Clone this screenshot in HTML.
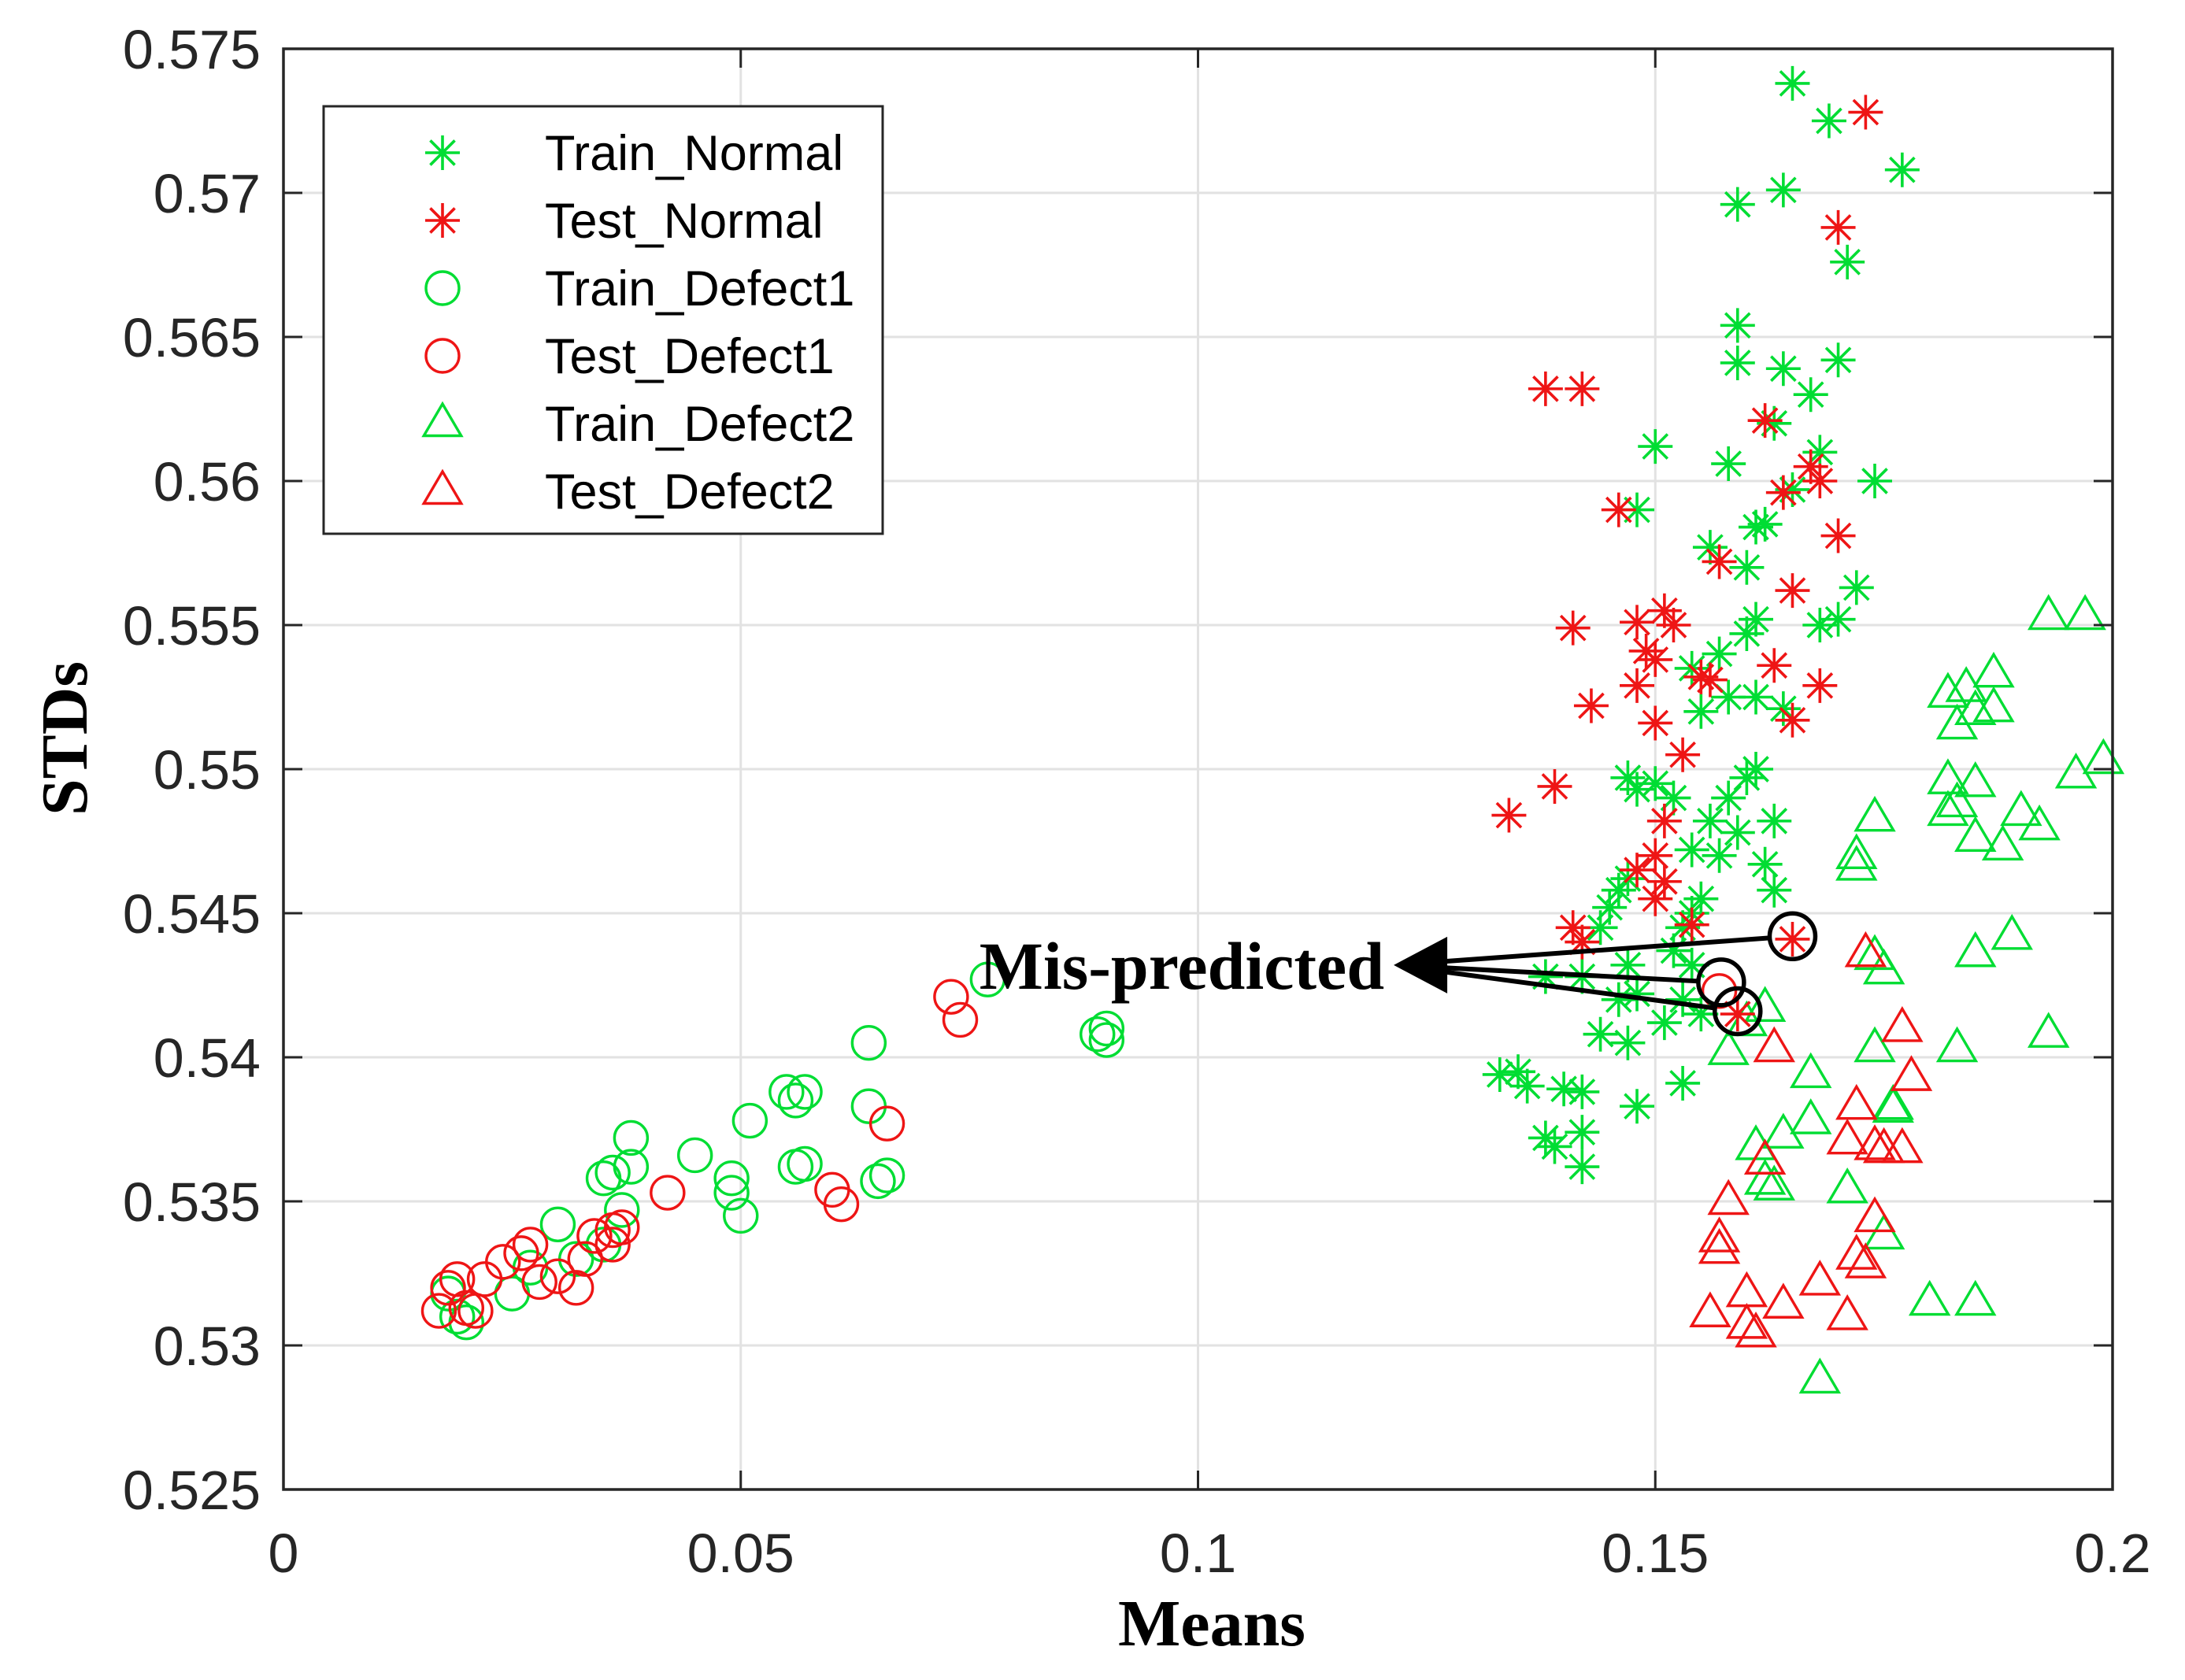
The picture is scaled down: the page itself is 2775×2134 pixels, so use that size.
<!DOCTYPE html>
<html><head><meta charset="utf-8"><style>
html,body{margin:0;padding:0;background:#fff;}
svg{display:block;}
</style></head><body>
<svg id="chart" width="2775" height="2134" viewBox="0 0 2775 2134" xmlns="http://www.w3.org/2000/svg">
<rect width="2775" height="2134" fill="#fff"/>
<g id="grid"></g>
<g id="marks"></g>
<g id="axes"></g>
<g id="annot"></g>
<g id="legend"></g>
</svg>
<script>
const xTicks = [0, 0.05, 0.1, 0.15, 0.2];
const xTickLabels = ["0", "0.05", "0.1", "0.15", "0.2"];
const yTicks = [0.525, 0.53, 0.535, 0.54, 0.545, 0.55, 0.555, 0.56, 0.565, 0.57, 0.575];
const yTickLabels = ["0.525","0.53","0.535","0.54","0.545","0.55","0.555","0.56","0.565","0.57","0.575"];
const seriesNames = ["Train_Normal","Test_Normal","Train_Defect1","Test_Defect1","Train_Defect2","Test_Defect2"];

const trainNormal = [[0.165,0.5738],[0.169,0.5725],[0.177,0.5708],[0.159,0.5696],[0.164,0.5701],[0.171,0.5676],[0.159,0.5654],[0.159,0.5641],[0.164,0.5639],[0.170,0.5642],[0.167,0.5630],[0.163,0.5620],[0.150,0.5612],[0.168,0.5610],[0.158,0.5606],[0.174,0.5600],[0.165,0.5597],[0.148,0.5590],[0.161,0.5584],[0.162,0.5585],[0.156,0.5577],[0.160,0.5570],[0.172,0.5563],[0.170,0.5552],[0.168,0.5550],[0.161,0.5552],[0.160,0.5547],[0.157,0.5540],[0.154,0.5535],[0.158,0.5525],[0.161,0.5525],[0.164,0.5521],[0.155,0.5520],[0.161,0.5500],[0.160,0.5497],[0.147,0.5497],[0.150,0.5495],[0.152,0.5490],[0.148,0.5493],[0.158,0.5490],[0.159,0.5478],[0.163,0.5482],[0.156,0.5482],[0.154,0.5472],[0.157,0.5470],[0.162,0.5467],[0.163,0.5458],[0.147,0.5462],[0.146,0.5458],[0.145,0.5452],[0.155,0.5455],[0.153,0.5445],[0.154,0.5450],[0.144,0.5445],[0.152,0.5437],[0.154,0.5432],[0.147,0.5432],[0.138,0.5428],[0.142,0.5428],[0.146,0.5420],[0.148,0.5422],[0.144,0.5408],[0.147,0.5405],[0.151,0.5412],[0.153,0.5420],[0.155,0.5415],[0.135,0.5395],[0.133,0.5394],[0.136,0.5390],[0.140,0.5389],[0.142,0.5388],[0.148,0.5383],[0.153,0.5391],[0.138,0.5372],[0.139,0.5369],[0.142,0.5374],[0.142,0.5362]];
const testNormal = [[0.173,0.5728],[0.170,0.5688],[0.138,0.5632],[0.142,0.5632],[0.162,0.5621],[0.167,0.5605],[0.168,0.5600],[0.164,0.5596],[0.146,0.5590],[0.157,0.5572],[0.170,0.5581],[0.165,0.5562],[0.141,0.5549],[0.148,0.5551],[0.151,0.5555],[0.152,0.5550],[0.149,0.5541],[0.150,0.5538],[0.148,0.5529],[0.155,0.5532],[0.156,0.5531],[0.163,0.5536],[0.168,0.5529],[0.143,0.5522],[0.150,0.5516],[0.165,0.5517],[0.153,0.5505],[0.139,0.5494],[0.134,0.5484],[0.151,0.5482],[0.150,0.5470],[0.151,0.5461],[0.148,0.5465],[0.150,0.5455],[0.141,0.5445],[0.142,0.5440],[0.154,0.5446],[0.165,0.5441],[0.159,0.5415]];
const trainDefect1 = [[0.019,0.5310],[0.020,0.5308],[0.018,0.5318],[0.025,0.5318],[0.027,0.5327],[0.030,0.5342],[0.032,0.5330],[0.035,0.5335],[0.035,0.5358],[0.036,0.5360],[0.038,0.5362],[0.038,0.5372],[0.037,0.5347],[0.045,0.5366],[0.049,0.5358],[0.049,0.5353],[0.050,0.5345],[0.051,0.5378],[0.055,0.5388],[0.056,0.5385],[0.057,0.5388],[0.057,0.5363],[0.056,0.5362],[0.064,0.5383],[0.064,0.5405],[0.065,0.5357],[0.066,0.5359],[0.077,0.5427],[0.089,0.5408],[0.090,0.5410],[0.090,0.5406]];
const testDefect1 = [[0.017,0.5312],[0.018,0.5320],[0.019,0.5323],[0.020,0.5313],[0.021,0.5312],[0.022,0.5323],[0.024,0.5329],[0.026,0.5332],[0.027,0.5335],[0.028,0.5322],[0.030,0.5324],[0.032,0.5320],[0.033,0.5330],[0.034,0.5338],[0.036,0.5340],[0.037,0.5341],[0.036,0.5335],[0.042,0.5353],[0.060,0.5354],[0.061,0.5349],[0.066,0.5377],[0.073,0.5421],[0.074,0.5413],[0.157,0.5423]];
const trainDefect2 = [[0.193,0.5553],[0.197,0.5553],[0.187,0.5533],[0.182,0.5526],[0.184,0.5528],[0.185,0.5520],[0.187,0.5521],[0.183,0.5515],[0.199,0.5503],[0.196,0.5498],[0.182,0.5496],[0.185,0.5495],[0.183,0.5488],[0.182,0.5485],[0.190,0.5485],[0.192,0.5480],[0.185,0.5476],[0.188,0.5473],[0.174,0.5483],[0.172,0.5470],[0.172,0.5466],[0.189,0.5442],[0.185,0.5436],[0.174,0.5435],[0.175,0.5430],[0.162,0.5417],[0.158,0.5402],[0.193,0.5408],[0.183,0.5403],[0.174,0.5403],[0.167,0.5394],[0.161,0.5369],[0.164,0.5373],[0.167,0.5378],[0.171,0.5354],[0.162,0.5357],[0.163,0.5355],[0.176,0.5382],[0.176,0.5383],[0.175,0.5338],[0.180,0.5315],[0.185,0.5315],[0.168,0.5288],[0.160,0.5412]];
const testDefect2 = [[0.173,0.5436],[0.177,0.5410],[0.163,0.5403],[0.178,0.5393],[0.172,0.5383],[0.171,0.5371],[0.174,0.5369],[0.175,0.5368],[0.177,0.5368],[0.162,0.5364],[0.158,0.5350],[0.174,0.5344],[0.157,0.5337],[0.157,0.5333],[0.172,0.5331],[0.173,0.5328],[0.168,0.5322],[0.164,0.5314],[0.156,0.5311],[0.171,0.5310],[0.160,0.5318],[0.160,0.5307],[0.161,0.5304]];
const misPredicted = [[0.1650,0.5442],[0.1572,0.5426],[0.1590,0.5416]];
const arrowTip = [0.1214,0.5432];

const NS = "http://www.w3.org/2000/svg";
const L = 360, R = 2683, T = 62, B = 1892;
const xMin = 0, xMax = 0.2, yMin = 0.525, yMax = 0.575;
function sx(v){ return L + (v - xMin) / (xMax - xMin) * (R - L); }
function sy(v){ return B - (v - yMin) / (yMax - yMin) * (B - T); }
const GREEN = "#00dd33", RED = "#ee1515";
function mk(tag, attrs, parent){
  const e = document.createElementNS(NS, tag);
  for (const k in attrs) e.setAttribute(k, attrs[k]);
  parent.appendChild(e);
  return e;
}
const grid = document.getElementById("grid");
const marks = document.getElementById("marks");
const axes = document.getElementById("axes");
const annot = document.getElementById("annot");
const legend = document.getElementById("legend");

xTicks.forEach((v, i) => {
  const g = mk("line", {x1: sx(v), x2: sx(v), y1: T, y2: B, stroke: "#e2e2e2", "stroke-width": 3}, grid);
  
  
  const t1 = mk("line", {x1: sx(v), x2: sx(v), y1: B, y2: B - 24, stroke: "#262626", "stroke-width": 3}, axes);
  
  
  const t2 = mk("line", {x1: sx(v), x2: sx(v), y1: T, y2: T + 24, stroke: "#262626", "stroke-width": 3}, axes);
  
  
  const lb = mk("text", {x: sx(v), y: 1997, "text-anchor": "middle", "font-family": "Liberation Sans, Arial, sans-serif", "font-size": 70, fill: "#262626"}, axes);
  lb.textContent = xTickLabels[i];
  
  
});
yTicks.forEach((v, i) => {
  const g = mk("line", {x1: L, x2: R, y1: sy(v), y2: sy(v), stroke: "#e2e2e2", "stroke-width": 3}, grid);
  
  
  const t1 = mk("line", {x1: L, x2: L + 24, y1: sy(v), y2: sy(v), stroke: "#262626", "stroke-width": 3}, axes);
  
  
  const t2 = mk("line", {x1: R, x2: R - 24, y1: sy(v), y2: sy(v), stroke: "#262626", "stroke-width": 3}, axes);
  
  
  const lb = mk("text", {x: 331, y: sy(v) + 25, "text-anchor": "end", "font-family": "Liberation Sans, Arial, sans-serif", "font-size": 70, fill: "#262626"}, axes);
  lb.textContent = yTickLabels[i];
  
  
});
const frame = mk("rect", {x: L, y: T, width: R - L, height: B - T, fill: "none", stroke: "#262626", "stroke-width": 3.5}, axes);



const xt = mk("text", {x: 1539, y: 2090, "text-anchor": "middle", "font-family": "Liberation Serif, Times New Roman, serif", "font-weight": "bold", "font-size": 84, fill: "#000"}, axes);
xt.textContent = "Means";


const yt = mk("text", {x: 0, y: 0, transform: "translate(110,938) rotate(-90)", "text-anchor": "middle", "font-family": "Liberation Serif, Times New Roman, serif", "font-weight": "bold", "font-size": 84, fill: "#000"}, axes);
yt.textContent = "STDs";



function star(parent, x, y, color, r){
  const g = mk("g", {stroke: color, "stroke-width": 3.6, fill: "none"}, parent);
  const d = r * 0.707;
  mk("path", {d: `M${x-r},${y}H${x+r}M${x},${y-r}V${y+r}M${x-d},${y-d}L${x+d},${y+d}M${x-d},${y+d}L${x+d},${y-d}`}, g);
  return g;
}
function circ(parent, x, y, color, r){
  return mk("circle", {cx: x, cy: y, r: r, stroke: color, "stroke-width": 3.4, fill: "none"}, parent);
}
function tri(parent, x, y, color, r){
  return mk("path", {d: `M${x},${y-r}L${x+r*0.95},${y+r*0.62}L${x-r*0.95},${y+r*0.62}Z`, stroke: color, "stroke-width": 3.4, fill: "none"}, parent);
}
const allSeries = [
  [trainDefect1, circ, GREEN, 21, "train-defect1-point"],
  [testDefect1, circ, RED, 21, "test-defect1-point"],
  [trainDefect2, tri, GREEN, 25, "train-defect2-point"],
  [testDefect2, tri, RED, 25, "test-defect2-point"],
  [trainNormal, star, GREEN, 22, "train-normal-point"],
  [testNormal, star, RED, 22, "test-normal-point"]
];
allSeries.forEach(s => {
  s[0].forEach(p => {
    const e = s[1](marks, sx(p[0]), sy(p[1]), s[2], s[3]);
    
    
  });
});

// annotation
const tx = sx(arrowTip[0]), ty = sy(arrowTip[1]);
misPredicted.forEach(p => {
  const c = mk("circle", {cx: sx(p[0]), cy: sy(p[1]), r: 29, fill: "none", stroke: "#000", "stroke-width": 5.5}, annot);
  
  
  const ang = Math.atan2(sy(p[1]) - ty, sx(p[0]) - tx);
  const ln = mk("line", {x1: tx + 50*Math.cos(ang), y1: ty + 50*Math.sin(ang), x2: sx(p[0]) - 29*Math.cos(ang), y2: sy(p[1]) - 29*Math.sin(ang), stroke: "#000", "stroke-width": 6}, annot);
  
  
});
const head = mk("path", {d: `M${tx},${ty}L${tx+68},${ty-36}L${tx+68},${ty+36}Z`, fill: "#000"}, annot);


const at = mk("text", {x: tx - 12, y: ty + 30, "text-anchor": "end", "font-family": "Liberation Serif, Times New Roman, serif", "font-weight": "bold", "font-size": 86, fill: "#000"}, annot);
at.textContent = "Mis-predicted";



// legend
const lbox = mk("rect", {x: 411, y: 135, width: 710, height: 543, fill: "#fff", stroke: "#262626", "stroke-width": 3}, legend);


const legFns = [[star, GREEN, 22], [star, RED, 22], [circ, GREEN, 21], [circ, RED, 21], [tri, GREEN, 25], [tri, RED, 25]];
seriesNames.forEach((n, i) => {
  const y = 194 + i * 86;
  const m = legFns[i][0](legend, 562, y, legFns[i][1], legFns[i][2]);
  
  
  const t = mk("text", {x: 692, y: y + 22, "font-family": "Liberation Sans, Arial, sans-serif", "font-size": 63, fill: "#000"}, legend);
  t.textContent = n;
  
  
});
</script>
</body></html>
